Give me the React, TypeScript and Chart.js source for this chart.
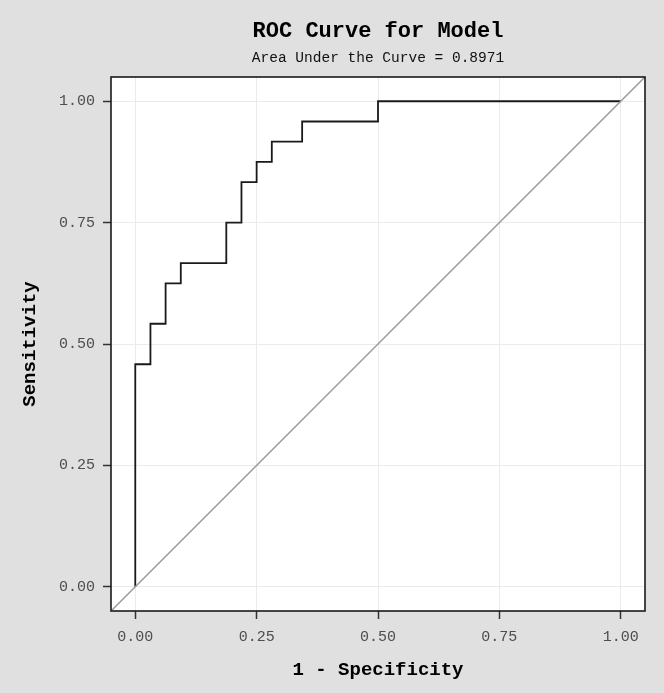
import React, { useEffect, useRef } from 'react';
import { Chart, registerables } from 'chart.js';

Chart.register(...registerables);

// ROC curve corner points (1 - specificity, sensitivity)
const falsePositiveRate = [
  0, 0, 0.03125, 0.03125, 0.0625, 0.0625, 0.09375, 0.09375, 0.1875, 0.1875,
  0.21875, 0.21875, 0.25, 0.25, 0.28125, 0.28125, 0.34375, 0.34375, 0.5, 0.5, 1,
];
const truePositiveRate = [
  0, 0.4583, 0.4583, 0.5417, 0.5417, 0.625, 0.625, 0.6667, 0.6667, 0.75,
  0.75, 0.8333, 0.8333, 0.875, 0.875, 0.9167, 0.9167, 0.9583, 0.9583, 1, 1,
];
// chance reference line across the whole panel
const referenceX = [-0.05, 1.05];
const referenceY = [-0.05, 1.05];

const tickValues = [0, 0.25, 0.5, 0.75, 1];
const axisMin = -0.05;
const axisMax = 1.05;

const titleText = 'ROC Curve for Model';
const subtitleText = 'Area Under the Curve = 0.8971';
const xTitleText = '1 - Specificity';
const yTitleText = 'Sensitivity';

const MONO = '"Liberation Mono", "DejaVu Sans Mono", monospace';

const framePlugin = {
  id: 'frameAndTitles',
  beforeDraw(chart: any) {
    const { ctx, chartArea, width, height } = chart;
    ctx.save();
    ctx.fillStyle = '#e0e0e0';
    ctx.fillRect(0, 0, width, height);
    ctx.fillStyle = '#ffffff';
    ctx.fillRect(chartArea.left, chartArea.top, chartArea.right - chartArea.left, chartArea.bottom - chartArea.top);
    ctx.restore();
  },
  afterDraw(chart: any) {
    const { ctx, chartArea } = chart;
    ctx.save();
    ctx.strokeStyle = '#1a1a1a';
    ctx.lineWidth = 1.6;
    ctx.strokeRect(chartArea.left, chartArea.top, chartArea.right - chartArea.left, chartArea.bottom - chartArea.top);
    const cx = (chartArea.left + chartArea.right) / 2;
    ctx.textAlign = 'center';
    ctx.textBaseline = 'middle';
    ctx.fillStyle = '#000000';
    ctx.font = `bold 22px ${MONO}`;
    ctx.fillText(titleText, cx, chartArea.top - 46);
    ctx.font = `14.5px ${MONO}`;
    ctx.fillStyle = '#111111';
    ctx.fillText(subtitleText, cx, chartArea.top - 19);
    ctx.restore();
  },
};

export default function App() {
  const canvasRef = useRef<HTMLCanvasElement | null>(null);

  useEffect(() => {
    const canvas = canvasRef.current;
    if (!canvas) return;
    const rocPoints = falsePositiveRate.map((x, i) => ({ x, y: truePositiveRate[i] }));
    const refPoints = referenceX.map((x, i) => ({ x, y: referenceY[i] }));

    const axisCommon = (text: string, tickPad: number, titlePad: any) => ({
      type: 'linear' as const,
      min: axisMin,
      max: axisMax,
      afterBuildTicks: (scale: any) => {
        scale.ticks = tickValues.map((v) => ({ value: v }));
      },
      grid: {
        color: '#ebebeb',
        lineWidth: 1,
        drawTicks: true,
        tickLength: 8,
        tickColor: '#333333',
        tickWidth: 1.5,
      },
      border: { display: false },
      ticks: {
        color: '#4d4d4d',
        font: { family: MONO, size: 15 },
        padding: tickPad,
        maxRotation: 0,
        callback: (v: any) => Number(v).toFixed(2),
      },
      title: {
        display: true,
        text,
        color: '#000000',
        font: { family: MONO, size: 19, weight: 'bold' as const },
        padding: titlePad,
      },
    });

    const chart = new Chart(canvas, {
      type: 'scatter',
      data: {
        datasets: [
          {
            label: 'Reference',
            data: refPoints,
            showLine: true,
            borderColor: '#9a9a9a',
            borderWidth: 1.5,
            pointRadius: 0,
            pointHoverRadius: 0,
          },
          {
            label: 'ROC',
            data: rocPoints,
            showLine: true,
            borderColor: '#1a1a1a',
            borderWidth: 1.8,
            pointRadius: 0,
            pointHoverRadius: 0,
          },
        ],
      },
      options: {
        responsive: false,
        animation: false,
        layout: { padding: { top: 77, right: 19, left: 0, bottom: 0 } },
        plugins: {
          legend: { display: false },
          tooltip: { enabled: false },
          title: { display: false },
        },
        scales: {
          x: {
            ...axisCommon(xTitleText, 9, { top: 0, bottom: 11.5 }),
            position: 'bottom',
            afterFit: (scale: any) => {
              scale.height = 82;
            },
          },
          y: {
            ...axisCommon(yTitleText, 8, { top: 19, bottom: 0 }),
            position: 'left',
            afterFit: (scale: any) => {
              scale.width = 111;
            },
          },
        },
      },
      plugins: [framePlugin],
    });
    return () => chart.destroy();
  }, []);

  return (
    <div style={{ position: 'fixed', left: 0, top: 0, width: 664, height: 693 }}>
      <canvas ref={canvasRef} width={664} height={693} style={{ display: 'block', width: 664, height: 693 }} />
    </div>
  );
}
